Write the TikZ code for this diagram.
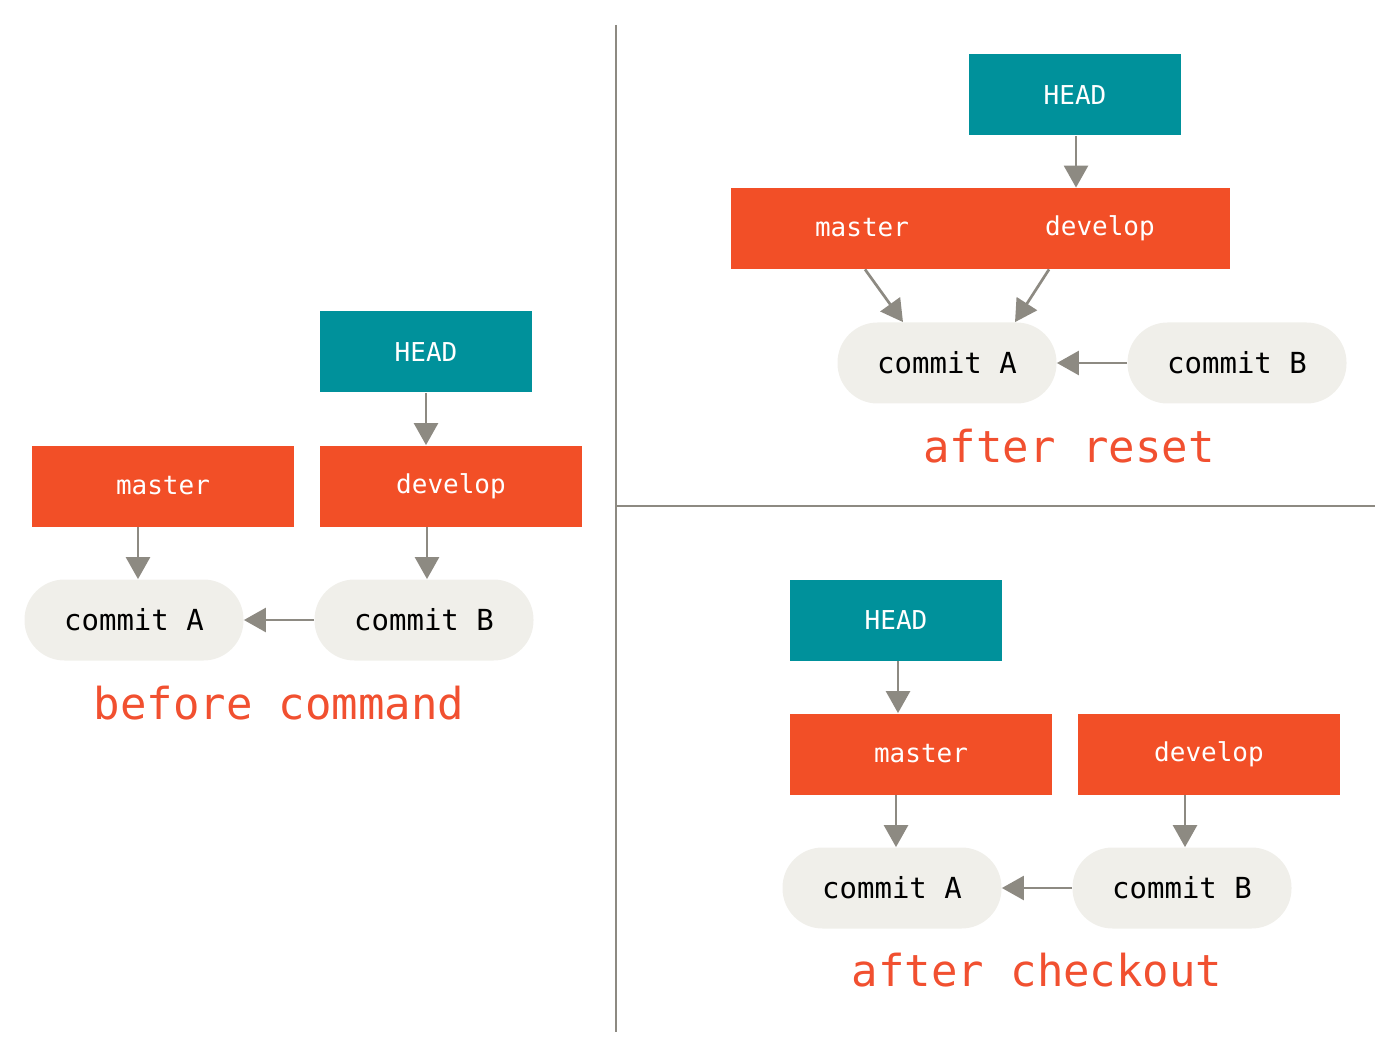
\documentclass[tikz,border=0pt]{standalone}
\usepackage{fontspec}
\setmonofont{DejaVu Sans Mono}
\usepackage{xcolor}
\usetikzlibrary{arrows.meta, positioning}
\definecolor{headteal}{HTML}{00919B}
\definecolor{branchred}{HTML}{F24F27}
\definecolor{commitgrey}{HTML}{F0EFEA}
\definecolor{arrowgrey}{HTML}{8D8A82}
\definecolor{titlered}{HTML}{F15030}

\begin{document}
\begin{tikzpicture}[x=0.5pt,y=-0.5pt,>={Triangle[length=11pt,width=12pt]},
        every node/.style={font=\ttfamily, inner sep=0pt},
        head/.style={fill=headteal, text=white, minimum width=106pt, minimum height=40.5pt, font=\ttfamily\fontsize{13}{15}\selectfont},
        branch/.style={fill=branchred, text=white, minimum width=131pt, minimum height=40.5pt, font=\ttfamily\fontsize{13}{15}\selectfont},
        commit/.style={fill=commitgrey, rounded corners=20pt, minimum width=109.5pt, minimum height=40.5pt, font=\ttfamily\fontsize{14.5}{17}\selectfont},
        caption/.style={text=titlered, font=\ttfamily\fontsize{22}{26}\selectfont},
        link/.style={->, color=arrowgrey, line width=1.35pt}]
        % \draw[help lines] (0,0) grid[step=100] (1400,1058);
      \useasboundingbox (0,0) rectangle (1400,1058);

      % before command
      \node[head]    (lHEAD)    at (426,352) {HEAD};
      \node[branch]  (lmaster)  at (163,486) {master};
      \node[branch]  (ldevelop) at (451,486) {develop};
      \node[commit]  (lA)       at (134,620) {commit A};
      \node[commit]  (lB)       at (424,620) {commit B};
      \node[caption] (lcap)     at (279,703) {before command};

      \path (lHEAD.south) edge[link] (lHEAD.south |- ldevelop.north)
            ([xshift=-12.5pt]lmaster.south) edge[link] ([xshift=-12.5pt]lmaster.south |- lA.north)
            ([xshift=-12pt]ldevelop.south) edge[link] ([xshift=-12pt]ldevelop.south |- lB.north)
            (lB) edge[link] (lA);

      % dividers
      \draw[arrowgrey, line width=1pt] (616,25) -- (616,1032);
      \draw[arrowgrey, line width=1pt] (616,506) -- (1375,506);

      % after reset
      \node[head]    (rHEAD)    at (1075,95) {HEAD};
      \node[fill=branchred, minimum width=249.5pt, minimum height=40.5pt] (rboth) at (980.5,228.5) {};
      \node[text=white, font=\ttfamily\fontsize{13}{15}\selectfont] (rmaster)  at (862,228) {master};
      \node[text=white, font=\ttfamily\fontsize{13}{15}\selectfont] (rdevelop) at (1100,228) {develop};
      \node[commit]  (rA)       at (947,363) {commit A};
      \node[commit]  (rB)       at (1237,363) {commit B};
      \node[caption] (rcap)     at (1069,446) {after reset};

      \path ([xshift=0.5pt]rHEAD.south) edge[link] ([xshift=0.5pt]rHEAD.south |- rboth.north)
            ([xshift=1.5pt]rmaster |- rboth.south) edge[link] ([xshift=-22pt]rA.north)
            ([xshift=-25.5pt]rdevelop |- rboth.south) edge[link] ([xshift=34pt]rA.north)
            (rB) edge[link] (rA);

      % after checkout
      \node[head]    (cHEAD)    at (896,620) {HEAD};
      \node[branch]  (cmaster)  at (921,754) {master};
      \node[branch]  (cdevelop) at (1209,754) {develop};
      \node[commit]  (cA)       at (892,888) {commit A};
      \node[commit]  (cB)       at (1182,888) {commit B};
      \node[caption] (ccap)     at (1037,970) {after checkout};

      \path ([xshift=1pt]cHEAD.south) edge[link] ([xshift=1pt]cHEAD.south |- cmaster.north)
            ([xshift=-12.5pt]cmaster.south) edge[link] ([xshift=-12.5pt]cmaster.south |- cA.north)
            ([xshift=-12pt]cdevelop.south) edge[link] ([xshift=-12pt]cdevelop.south |- cB.north)
            (cB) edge[link] (cA);
    \end{tikzpicture}
\end{document}
